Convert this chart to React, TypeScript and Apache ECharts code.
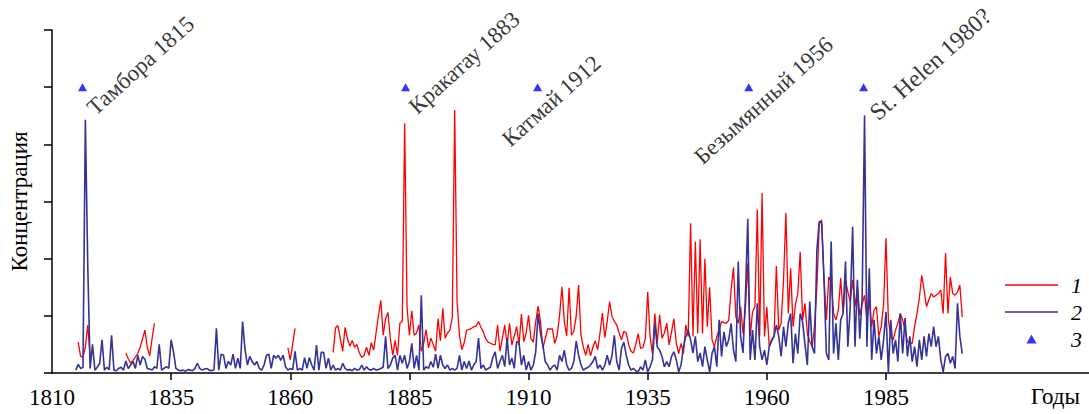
import { useEffect, useRef } from 'react';
import * as echarts from 'echarts';

// ---- data (year grid: START_YEAR + i * STEP) ----
const START_YEAR = 1815;
const STEP = 0.5;

// series 1 (red)
const redValues: (number | null)[] = [
  /*1815*/ null, 0.54, 0.29, 0.28, 0.45, 0.84, 0.29, null, null, null,
  /*1820*/ null, null, null, null, null, null, null, null, null, null,
  /*1825*/ null, 0.35, 0.25, 0.17, 0.22, 0.28, 0.34, 0.45, 0.60, 0.75,
  /*1830*/ 0.45, 0.30, 0.60, 0.87, null, null, null, null, null, null,
  /*1835*/ null, null, null, null, null, null, null, null, null, null,
  /*1840*/ null, null, null, null, null, null, null, null, null, null,
  /*1845*/ null, null, null, null, null, null, null, null, null, null,
  /*1850*/ null, null, null, null, null, null, null, null, null, null,
  /*1855*/ null, null, null, null, null, null, null, null, null, 0.44,
  /*1860*/ 0.23, 0.50, 0.78, null, null, null, null, null, null, null,
  /*1865*/ null, null, null, null, null, null, null, null, 0.36, 0.79,
  /*1870*/ 0.83, 0.60, 0.38, 0.80, 0.60, 0.47, 0.57, 0.45, 0.50, 0.35,
  /*1875*/ 0.27, 0.31, 0.45, 0.31, 0.53, 0.40, 0.70, 1.01, 1.27, 0.66,
  /*1880*/ 0.95, 1.06, 0.60, 0.31, 0.57, 0.31, 0.87, 0.90, 4.37, 1.15,
  /*1885*/ 0.66, 1.09, 0.66, 0.70, 0.84, 0.38, 0.52, 0.76, 0.44, 0.61,
  /*1890*/ 0.50, 0.38, 0.95, 0.56, 1.13, 0.61, 0.70, 0.75, 0.98, 4.60,
  /*1895*/ 1.25, 0.66, 0.41, 0.53, 0.75, 0.76, 0.78, 0.81, 0.82, 0.90,
  /*1900*/ 0.80, 0.72, 0.60, 0.54, 0.52, 0.50, 0.49, 0.84, 0.38, 0.60,
  /*1905*/ 0.84, 0.49, 0.87, 0.49, 0.65, 0.81, 0.49, 1.03, 0.55, 0.70,
  /*1910*/ 1.01, 0.60, 0.54, 0.90, 1.17, 0.90, 0.43, 0.60, 0.77, 0.77,
  /*1915*/ 0.77, 0.52, 0.66, 1.00, 1.51, 0.90, 0.65, 1.49, 0.66, 0.73,
  /*1920*/ 1.00, 1.54, 0.66, 0.45, 0.31, 0.50, 0.30, 0.45, 0.56, 0.41,
  /*1925*/ 0.70, 1.05, 0.62, 0.90, 1.25, 0.99, 0.90, 0.84, 0.70, 0.58,
  /*1930*/ 0.73, 0.70, 0.50, 0.38, 0.35, 0.50, 0.69, 0.43, 0.45, 0.60,
  /*1935*/ 1.42, 0.64, 0.34, 1.04, 0.52, 1.02, 0.61, 0.70, 0.87, 0.49,
  /*1940*/ 0.72, 0.95, 0.52, 0.34, 0.52, 0.34, 0.84, 0.64, 2.62, 0.64,
  /*1945*/ 2.30, 0.69, 2.34, 0.69, 2.00, 0.81, 1.50, 0.58, 0.46, 0.64,
  /*1950*/ 0.75, 0.90, 0.88, 0.87, 0.92, 1.45, 1.85, 0.98, 0.87, 1.16,
  /*1955*/ 0.69, 1.13, 1.92, 0.64, 1.07, 1.16, 2.86, 0.64, 3.15, 0.64,
  /*1960*/ 1.16, 0.46, 0.55, 0.64, 1.87, 0.75, 0.87, 1.62, 2.80, 1.04,
  /*1965*/ 1.83, 0.81, 1.20, 1.39, 2.12, 0.93, 1.22, 0.69, 0.55, 0.46,
  /*1970*/ 0.81, 1.50, 2.62, 2.68, 1.63, 0.93, 1.68, 1.60, 1.04, 0.93,
  /*1975*/ 1.10, 1.66, 1.04, 1.63, 1.42, 1.25, 1.63, 1.16, 1.51, 1.01,
  /*1980*/ 1.20, 1.36, 0.93, 1.28, 0.81, 1.10, 1.16, 0.64, 0.81, 1.20,
  /*1985*/ 2.36, 0.93, 0.64, 0.58, 0.75, 0.87, 1.04, 0.93, 0.75, 0.55,
  /*1990*/ 0.52, 0.52, 0.81, 1.04, 1.31, 1.71, 1.45, 1.16, 1.28, 1.39,
  /*1995*/ 1.33, 1.36, 1.39, 1.45, 1.04, 2.10, 1.04, 1.68, 1.39, 1.36,
  /*2000*/ 1.42, 1.54, 0.98,
];

// series 2 (blue)
const blueValues: number[] = [
  /*1815*/ 0.05, 0.15, 0.08, 0.10, 4.43, 1.89, 0.08, 0.50, 0.05, 0.10,
  /*1820*/ 0.17, 0.58, 0.05, 0.10, 0.06, 0.66, 0.05, 0.04, 0.08, 0.10,
  /*1825*/ 0.05, 0.21, 0.08, 0.14, 0.20, 0.08, 0.31, 0.14, 0.29, 0.24,
  /*1830*/ 0.08, 0.07, 0.05, 0.11, 0.08, 0.50, 0.05, 0.08, 0.11, 0.08,
  /*1835*/ 0.58, 0.37, 0.08, 0.05, 0.04, 0.05, 0.03, 0.06, 0.05, 0.04,
  /*1840*/ 0.08, 0.17, 0.08, 0.05, 0.07, 0.08, 0.05, 0.04, 0.06, 0.78,
  /*1845*/ 0.05, 0.33, 0.31, 0.08, 0.20, 0.14, 0.33, 0.08, 0.26, 0.08,
  /*1850*/ 0.90, 0.41, 0.14, 0.29, 0.20, 0.14, 0.20, 0.08, 0.05, 0.14,
  /*1855*/ 0.31, 0.33, 0.08, 0.31, 0.26, 0.31, 0.22, 0.31, 0.11, 0.05,
  /*1860*/ 0.08, 0.06, 0.38, 0.05, 0.08, 0.05, 0.27, 0.08, 0.27, 0.14,
  /*1865*/ 0.05, 0.49, 0.05, 0.36, 0.36, 0.08, 0.26, 0.05, 0.14, 0.05,
  /*1870*/ 0.08, 0.05, 0.17, 0.08, 0.05, 0.06, 0.04, 0.08, 0.05, 0.06,
  /*1875*/ 0.14, 0.05, 0.11, 0.06, 0.05, 0.08, 0.05, 0.06, 0.08, 0.10,
  /*1880*/ 0.64, 0.08, 0.14, 0.26, 0.31, 0.05, 0.31, 0.17, 0.31, 0.08,
  /*1885*/ 0.20, 0.52, 0.08, 0.31, 0.05, 1.36, 0.05, 0.11, 0.08, 0.20,
  /*1890*/ 0.10, 0.33, 0.08, 0.31, 0.14, 0.08, 0.14, 0.05, 0.08, 0.05,
  /*1895*/ 0.08, 0.31, 0.05, 0.20, 0.08, 0.21, 0.05, 0.14, 0.20, 0.61,
  /*1900*/ 0.08, 0.14, 0.05, 0.08, 0.10, 0.27, 0.37, 0.08, 0.20, 0.31,
  /*1905*/ 0.11, 0.61, 0.14, 0.26, 0.08, 0.55, 0.53, 0.14, 0.31, 0.05,
  /*1910*/ 0.20, 0.05, 0.14, 0.37, 1.04, 0.70, 0.49, 0.20, 0.14, 0.05,
  /*1915*/ 0.11, 0.14, 0.05, 0.31, 0.20, 0.40, 0.14, 0.05, 0.08, 0.20,
  /*1920*/ 0.56, 0.31, 0.14, 0.05, 0.08, 0.10, 0.14, 0.20, 0.29, 0.08,
  /*1925*/ 0.14, 0.05, 0.14, 0.31, 0.14, 0.30, 0.66, 0.20, 0.05, 0.43,
  /*1930*/ 0.54, 0.31, 0.14, 0.05, 0.08, 0.04, 0.02, 0.11, 0.05, 0.23,
  /*1935*/ 0.02, 0.11, 0.23, 0.87, 0.46, 0.40, 0.29, 0.11, 0.20, 0.11,
  /*1940*/ 0.29, 0.37, 0.23, 0.02, 0.14, 0.46, 0.64, 0.75, 0.58, 0.35,
  /*1945*/ 0.64, 0.20, 0.35, 0.11, 0.46, 0.23, 0.02, 0.34, 0.46, 0.11,
  /*1950*/ 0.93, 0.29, 0.72, 0.46, 0.58, 0.87, 0.40, 0.20, 1.95, 0.64,
  /*1955*/ 0.35, 1.33, 2.70, 0.23, 0.75, 0.23, 1.22, 0.46, 0.23, 0.40,
  /*1960*/ 0.14, 0.46, 0.58, 0.64, 0.84, 0.64, 0.29, 0.81, 0.46, 0.87,
  /*1965*/ 1.04, 0.17, 0.69, 0.34, 1.04, 0.90, 0.50, 0.14, 1.25, 0.46,
  /*1970*/ 0.34, 2.15, 2.65, 2.62, 1.63, 0.34, 0.23, 2.30, 0.34, 0.87,
  /*1975*/ 0.23, 0.93, 1.04, 1.95, 0.46, 1.16, 2.56, 0.46, 1.63, 0.60,
  /*1980*/ 1.33, 4.51, 0.46, 1.83, 0.23, 0.93, 0.34, 0.64, 0.23, 0.58,
  /*1985*/ 1.07, 0.02, 0.93, 0.34, 0.58, 0.20, 1.04, 0.34, 0.96, 0.29,
  /*1990*/ 0.64, 0.20, 0.46, 0.11, 0.58, 0.23, 0.64, 0.29, 0.69, 0.46,
  /*1995*/ 0.81, 0.46, 0.64, 0.23, 0.02, 0.29, 0.34, 0.17, 0.29, 0.08,
  /*2000*/ 1.22, 0.64, 0.34,
];

// series 3 (eruption markers)
const eventYears = [1816.4, 1884.2, 1911.9, 1956.2, 1980.3];
const eventLevel = 5;

// annotation labels
const labelTexts = ['Тамбора 1815', 'Кракатау 1883', 'Катмай 1912', 'Безымянный 1956', 'St. Helen 1980?'];
const labelYears = [1819.8, 1887.3, 1906.9, 1947.2, 1984.1];
const labelLevels = [4.43, 4.45, 3.88, 3.57, 4.34];
const labelSizes = [23, 23, 23, 23, 24];

const xLabelValues = [1810, 1835, 1860, 1885, 1910, 1935, 1960, 1985];
const xTickValues = [1835, 1860, 1885, 1910, 1935, 1960, 1985];

const FONT = 'Liberation Serif';
const LEGEND_LINE = 'path://M0,0 L53,0 L53,1.3 L0,1.3 Z';
const LEGEND_TRIANGLE = 'path://M4.5,0 L9,8 L0,8 Z';

export default function App() {
  const ref = useRef<HTMLDivElement>(null);
  useEffect(() => {
    const chart = echarts.init(ref.current!, null, { renderer: 'svg' });
    const toPairs = (vals: (number | null)[]) =>
      vals.map((v, i) => [START_YEAR + i * STEP, v === null ? '-' : v]);
    const axisLineStyle = { color: '#000', width: 1.5 };
    chart.setOption({
      animation: false,
      backgroundColor: '#fff',
      textStyle: { fontFamily: FONT },
      grid: { left: 51, right: 0, top: 30, bottom: 41, containLabel: false },
      xAxis: {
        type: 'value',
        min: 1810,
        max: 2027.6,
        axisLine: { show: true, lineStyle: axisLineStyle },
        axisTick: { show: true, length: 7, customValues: xTickValues, lineStyle: axisLineStyle },
        axisLabel: {
          show: true,
          customValues: xLabelValues,
          formatter: (v: number) => String(v),
          fontSize: 23,
          fontFamily: FONT,
          color: '#000',
          margin: 13,
        },
        splitLine: { show: false },
        name: 'Годы',
        nameLocation: 'end',
        nameGap: -9,
        nameTextStyle: { fontSize: 23, fontFamily: FONT, color: '#000', align: 'right', verticalAlign: 'top', padding: [12, 0, 0, 0] },
      },
      yAxis: {
        type: 'value',
        min: 0,
        max: 6,
        interval: 1,
        axisLine: { show: true, lineStyle: axisLineStyle },
        axisTick: { show: true, length: 8, lineStyle: axisLineStyle },
        axisLabel: { show: false },
        splitLine: { show: false },
        name: 'Концентрация',
        nameLocation: 'middle',
        nameGap: 21,
        nameTextStyle: { fontSize: 23, fontFamily: FONT, color: '#000' },
      },
      legend: {
        orient: 'vertical',
        left: 1000,
        top: 269,
        itemWidth: 53,
        itemHeight: 9,
        itemGap: 5,
        symbolKeepAspect: true,
        selectedMode: false,
        data: [
          { name: '1', icon: LEGEND_LINE },
          { name: '2', icon: LEGEND_LINE },
          { name: '3', icon: LEGEND_TRIANGLE },
        ],
        textStyle: { fontSize: 22, fontStyle: 'italic', fontFamily: FONT, color: '#000', lineHeight: 21, padding: [0, 0, 0, 8] },
      },
      series: [
        {
          name: '1',
          type: 'line',
          data: toPairs(redValues),
          symbol: 'none',
          connectNulls: false,
          lineStyle: { color: '#ff0000', width: 1.3 },
          itemStyle: { color: '#ff0000' },
          z: 2,
        },
        {
          name: '2',
          type: 'line',
          data: toPairs(blueValues),
          symbol: 'none',
          lineStyle: { color: '#333399', width: 1.6 },
          itemStyle: { color: '#333399' },
          z: 3,
        },
        {
          name: '3',
          type: 'scatter',
          data: eventYears.map((y) => [y, eventLevel]),
          symbol: 'triangle',
          symbolSize: [9, 8],
          itemStyle: { color: '#0000ff' },
          z: 4,
        },
        {
          name: 'labels',
          type: 'scatter',
          symbolSize: 1,
          itemStyle: { color: 'rgba(0,0,0,0)' },
          data: labelTexts.map((t, i) => ({
            name: t,
            value: [labelYears[i], labelLevels[i]],
            label: { fontSize: labelSizes[i], lineHeight: labelSizes[i] },
          })),
          label: {
            show: true,
            formatter: '{b}',
            position: [0, 0],
            rotate: 42,
            align: 'left',
            verticalAlign: 'bottom',
            fontSize: 23,
            lineHeight: 23,
            fontFamily: FONT,
            color: '#000',
          },
          z: 5,
        },
      ],
    });
    return () => chart.dispose();
  }, []);
  return <div ref={ref} style={{ position: 'fixed', left: 0, top: 0, width: 1089, height: 414 }} />;
}
